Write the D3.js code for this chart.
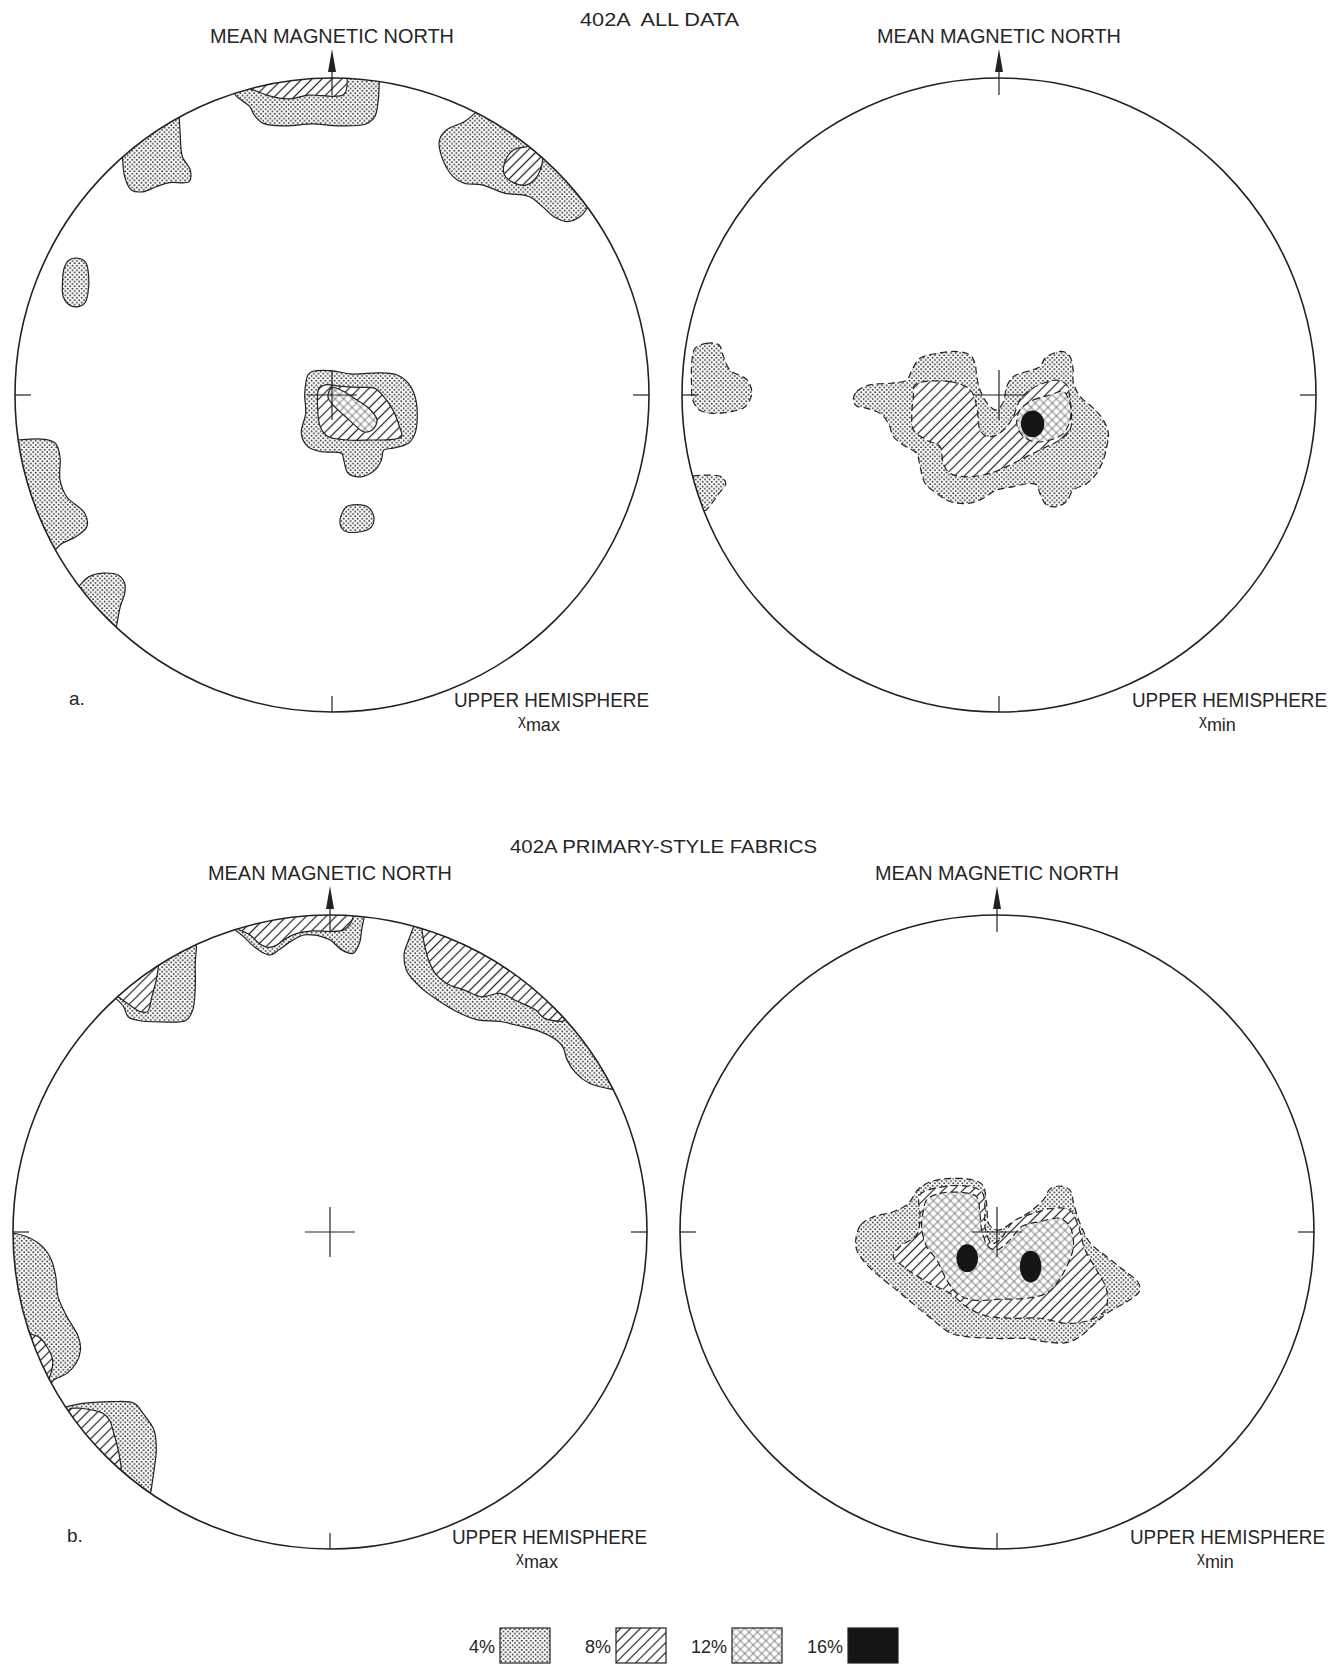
<!DOCTYPE html>
<html>
<head>
<meta charset="utf-8">
<script src="https://cdn.jsdelivr.net/npm/d3@7"></script>
<style>
  body { margin: 0; background: #fff; }
  text { font-family: "Liberation Sans", Arial, sans-serif; fill: #262626; }
</style>
</head>
<body>
<svg id="chart" width="1344" height="1668"></svg>
<script>
// Contours in units of the net radius
// (x to the right, y downwards, centre of the net at 0,0).
// rim: true -> the contour starts and ends on the primitive circle.

// 402A all data, chi max
const allMax4 = [
  {rim: true, pts: [[-0.308,-0.952],[-0.300,-0.941],[-0.259,-0.909],[-0.245,-0.883],[-0.217,-0.857],[-0.146,-0.849],[-0.062,-0.855],[0.023,-0.849],[0.107,-0.855],[0.135,-0.878],[0.146,-0.931],[0.149,-0.988]]},
  {rim: true, pts: [[-0.661,-0.757],[-0.654,-0.689],[-0.633,-0.647],[-0.597,-0.641],[-0.555,-0.657],[-0.513,-0.670],[-0.451,-0.673],[-0.447,-0.710],[-0.472,-0.752],[-0.479,-0.826],[-0.482,-0.876]]},
  {rim: true, pts: [[0.452,-0.890],[0.417,-0.862],[0.361,-0.836],[0.339,-0.804],[0.346,-0.752],[0.382,-0.689],[0.417,-0.668],[0.473,-0.663],[0.544,-0.637],[0.621,-0.626],[0.663,-0.595],[0.699,-0.563],[0.741,-0.547],[0.783,-0.563],[0.805,-0.590]]},
  {rim: false, pts: [[-0.850,-0.360],[-0.845,-0.400],[-0.830,-0.425],[-0.805,-0.432],[-0.778,-0.420],[-0.768,-0.380],[-0.770,-0.320],[-0.780,-0.290],[-0.805,-0.278],[-0.830,-0.285],[-0.848,-0.310]]},
  {rim: false, pts: [[-0.076,-0.063],[-0.062,-0.074],[-0.006,-0.077],[0.065,-0.066],[0.149,-0.070],[0.206,-0.063],[0.241,-0.037],[0.262,0.005],[0.269,0.068],[0.262,0.121],[0.241,0.152],[0.192,0.168],[0.163,0.174],[0.156,0.205],[0.135,0.237],[0.093,0.258],[0.051,0.247],[0.037,0.205],[0.030,0.184],[-0.034,0.179],[-0.076,0.163],[-0.097,0.121],[-0.083,0.058],[-0.086,-0.005]]},
  {rim: false, pts: [[0.044,0.354],[0.079,0.346],[0.114,0.354],[0.132,0.386],[0.124,0.417],[0.079,0.433],[0.037,0.427],[0.025,0.398]]},
  {rim: true, pts: [[-0.992,0.142],[-0.963,0.140],[-0.907,0.140],[-0.872,0.153],[-0.858,0.195],[-0.858,0.268],[-0.837,0.321],[-0.780,0.373],[-0.773,0.415],[-0.808,0.447],[-0.851,0.468],[-0.868,0.484]]},
  {rim: true, pts: [[-0.794,0.599],[-0.766,0.573],[-0.724,0.562],[-0.675,0.568],[-0.654,0.594],[-0.654,0.626],[-0.668,0.668],[-0.679,0.726]]}
];
const allMax8 = [
  {rim: true, pts: [[-0.259,-0.967],[-0.189,-0.941],[-0.132,-0.934],[-0.076,-0.946],[0.037,-0.948],[0.048,-0.997]]},
  {rim: true, pts: [[0.614,-0.783],[0.572,-0.773],[0.544,-0.731],[0.544,-0.694],[0.572,-0.670],[0.611,-0.662],[0.642,-0.683],[0.659,-0.715],[0.665,-0.745]]},
  {rim: false, pts: [[-0.041,-0.021],[-0.020,-0.032],[0.023,-0.028],[0.079,-0.024],[0.135,-0.021],[0.163,0.005],[0.192,0.047],[0.213,0.100],[0.220,0.131],[0.192,0.140],[0.121,0.142],[0.051,0.142],[-0.013,0.131],[-0.037,0.100],[-0.045,0.047]]}
];
const allMax12 = [
  {rim: false, pts: [[0.001,-0.024],[0.037,-0.011],[0.079,0.016],[0.121,0.047],[0.142,0.079],[0.128,0.110],[0.100,0.116],[0.072,0.095],[0.037,0.063],[0.008,0.037],[-0.013,0.005]]}
];
const allMax16 = [];

// 402A all data, chi min
const allMin4 = [
  {rim: false, pts: [[-0.959,-0.147],[-0.924,-0.163],[-0.883,-0.158],[-0.869,-0.121],[-0.849,-0.079],[-0.794,-0.047],[-0.780,-0.005],[-0.801,0.037],[-0.849,0.053],[-0.904,0.058],[-0.945,0.047],[-0.966,0.016],[-0.970,-0.037],[-0.970,-0.089],[-0.966,-0.126]]},
  {rim: true, pts: [[-0.966,0.256],[-0.931,0.253],[-0.876,0.258],[-0.862,0.279],[-0.883,0.310],[-0.906,0.342],[-0.924,0.363]]},
  {rim: false, pts: [[-0.460,0.016],[-0.449,-0.011],[-0.407,-0.032],[-0.344,-0.037],[-0.291,-0.047],[-0.275,-0.079],[-0.249,-0.116],[-0.197,-0.131],[-0.134,-0.137],[-0.091,-0.126],[-0.076,-0.100],[-0.070,-0.058],[-0.060,-0.016],[-0.028,0.037],[-0.007,0.047],[0.014,0.021],[0.024,-0.026],[0.045,-0.058],[0.087,-0.074],[0.129,-0.089],[0.145,-0.116],[0.171,-0.131],[0.203,-0.137],[0.224,-0.121],[0.234,-0.079],[0.234,-0.042],[0.256,0.005],[0.298,0.042],[0.329,0.079],[0.345,0.121],[0.340,0.163],[0.329,0.205],[0.308,0.247],[0.277,0.279],[0.234,0.300],[0.213,0.336],[0.182,0.352],[0.150,0.347],[0.129,0.310],[0.119,0.284],[0.098,0.279],[0.045,0.289],[-0.007,0.300],[-0.060,0.331],[-0.102,0.342],[-0.155,0.336],[-0.197,0.310],[-0.233,0.279],[-0.249,0.226],[-0.260,0.184],[-0.302,0.158],[-0.333,0.131],[-0.349,0.089],[-0.375,0.058],[-0.417,0.042],[-0.449,0.035]]}
];
const allMin8 = [
  {rim: false, pts: [[-0.265,-0.032],[-0.155,-0.042],[-0.091,-0.016],[-0.070,0.037],[-0.060,0.110],[-0.039,0.131],[-0.007,0.126],[0.024,0.100],[0.045,0.068],[0.066,0.016],[0.098,-0.016],[0.140,-0.037],[0.182,-0.047],[0.213,-0.032],[0.224,0.016],[0.229,0.068],[0.224,0.110],[0.192,0.142],[0.150,0.163],[0.108,0.184],[0.066,0.205],[0.024,0.226],[-0.028,0.247],[-0.102,0.258],[-0.155,0.247],[-0.176,0.216],[-0.186,0.163],[-0.228,0.142],[-0.270,0.110],[-0.275,0.058],[-0.270,0.005]]}
];
const allMin12 = [
  {rim: false, pts: [[0.066,0.047],[0.108,0.016],[0.161,0.000],[0.203,-0.011],[0.224,0.026],[0.224,0.079],[0.203,0.121],[0.161,0.142],[0.108,0.147],[0.072,0.126],[0.056,0.089]]}
];
const allMin16 = [[0.106, 0.091, 0.037, 0.042]];   // centre u, v and radii

// 402A primary-style fabrics, chi max
const priMax4 = [
  {rim: true, pts: [[-0.297,-0.951],[-0.273,-0.932],[-0.245,-0.905],[-0.217,-0.884],[-0.189,-0.874],[-0.161,-0.890],[-0.125,-0.916],[-0.083,-0.937],[-0.055,-0.937],[-0.027,-0.932],[0.001,-0.921],[0.037,-0.890],[0.072,-0.879],[0.093,-0.911],[0.100,-0.953],[0.107,-0.990]]},
  {rim: true, pts: [[-0.676,-0.737],[-0.651,-0.711],[-0.637,-0.679],[-0.608,-0.668],[-0.538,-0.663],[-0.454,-0.668],[-0.433,-0.700],[-0.425,-0.774],[-0.425,-0.847],[-0.421,-0.900]]},
  {rim: true, pts: [[0.262,-0.958],[0.248,-0.921],[0.234,-0.879],[0.241,-0.826],[0.283,-0.774],[0.339,-0.732],[0.410,-0.690],[0.466,-0.669],[0.537,-0.664],[0.607,-0.648],[0.663,-0.632],[0.706,-0.611],[0.734,-0.585],[0.748,-0.543],[0.776,-0.501],[0.818,-0.469],[0.889,-0.450]]},
  {rim: true, pts: [[-0.999,0.004],[-0.956,0.015],[-0.907,0.046],[-0.879,0.088],[-0.865,0.141],[-0.858,0.204],[-0.830,0.267],[-0.794,0.330],[-0.787,0.372],[-0.801,0.414],[-0.830,0.446],[-0.872,0.467],[-0.879,0.477]]},
  {rim: true, pts: [[-0.830,0.551],[-0.773,0.540],[-0.689,0.535],[-0.618,0.540],[-0.590,0.572],[-0.555,0.625],[-0.548,0.688],[-0.555,0.751],[-0.565,0.819]]}
];
const priMax8 = [
  {rim: true, pts: [[-0.287,-0.953],[-0.252,-0.937],[-0.224,-0.911],[-0.196,-0.898],[-0.168,-0.905],[-0.139,-0.926],[-0.104,-0.942],[-0.055,-0.950],[0.001,-0.948],[0.044,-0.953],[0.065,-0.974],[0.072,-0.990]]},
  {rim: true, pts: [[-0.668,-0.742],[-0.632,-0.716],[-0.597,-0.695],[-0.576,-0.695],[-0.562,-0.742],[-0.548,-0.795],[-0.541,-0.840]]},
  {rim: true, pts: [[0.290,-0.953],[0.297,-0.911],[0.311,-0.858],[0.332,-0.816],[0.368,-0.784],[0.424,-0.763],[0.480,-0.742],[0.537,-0.753],[0.593,-0.727],[0.649,-0.700],[0.677,-0.674],[0.734,-0.664]]},
  {rim: true, pts: [[-0.945,0.322],[-0.921,0.330],[-0.893,0.362],[-0.875,0.404],[-0.879,0.441],[-0.889,0.467]]},
  {rim: true, pts: [[-0.815,0.556],[-0.787,0.556],[-0.717,0.572],[-0.696,0.593],[-0.682,0.635],[-0.668,0.688],[-0.658,0.746]]}
];
const priMax12 = [];
const priMax16 = [];

// 402A primary-style fabrics, chi min
const priMin4 = [
  {rim: false, pts: [[-0.445,0.020],[-0.430,-0.022],[-0.390,-0.048],[-0.327,-0.064],[-0.280,-0.090],[-0.248,-0.135],[-0.209,-0.159],[-0.148,-0.169],[-0.075,-0.164],[-0.045,-0.148],[-0.033,-0.090],[-0.024,-0.022],[0.004,-0.006],[0.052,-0.033],[0.104,-0.064],[0.146,-0.101],[0.167,-0.135],[0.199,-0.145],[0.230,-0.132],[0.243,-0.085],[0.264,-0.022],[0.295,0.036],[0.346,0.078],[0.399,0.120],[0.446,0.160],[0.449,0.188],[0.414,0.217],[0.346,0.257],[0.304,0.293],[0.262,0.330],[0.220,0.349],[0.157,0.347],[0.094,0.336],[-0.001,0.336],[-0.096,0.330],[-0.148,0.318],[-0.201,0.278],[-0.253,0.236],[-0.317,0.183],[-0.380,0.132],[-0.422,0.090],[-0.443,0.055]]}
];
const priMin8 = [
  {rim: false, pts: [[-0.243,-0.117],[-0.180,-0.141],[-0.096,-0.145],[-0.048,-0.127],[-0.038,-0.080],[-0.038,-0.017],[-0.017,0.036],[0.009,0.025],[0.052,-0.033],[0.115,-0.059],[0.178,-0.075],[0.230,-0.069],[0.257,-0.017],[0.278,0.057],[0.314,0.120],[0.346,0.183],[0.341,0.246],[0.293,0.278],[0.220,0.288],[0.136,0.272],[0.052,0.272],[-0.033,0.265],[-0.096,0.236],[-0.148,0.193],[-0.222,0.157],[-0.295,0.109],[-0.327,0.078],[-0.306,0.046],[-0.253,0.009],[-0.243,-0.048]]}
];
const priMin12 = [
  {rim: false, pts: [[-0.222,-0.101],[-0.180,-0.122],[-0.106,-0.124],[-0.064,-0.111],[-0.054,-0.059],[-0.048,-0.006],[-0.027,0.046],[-0.001,0.057],[0.041,0.025],[0.078,-0.017],[0.136,-0.033],[0.199,-0.043],[0.230,-0.017],[0.241,0.046],[0.220,0.109],[0.188,0.162],[0.157,0.193],[0.094,0.209],[0.009,0.212],[-0.075,0.215],[-0.127,0.193],[-0.159,0.151],[-0.190,0.088],[-0.222,0.046],[-0.238,-0.017],[-0.232,-0.069]]}
];
const priMin16 = [[-0.094, 0.083, 0.034, 0.044], [0.106, 0.109, 0.034, 0.050]];

const levels = ["4%", "8%", "12%", "16%"];
const titles = ["402A  ALL DATA", "402A PRIMARY-STYLE FABRICS"];

// ---------------------------------------------------------------------------

const svg = d3.select("#chart");
const R = 317;

const panels = [
  {cx: 332, cy: 395, dashed: false, sub: "max", letter: "a.", data: [allMax4, allMax8, allMax12], black: allMax16},
  {cx: 999, cy: 395, dashed: true,  sub: "min", letter: null, data: [allMin4, allMin8, allMin12], black: allMin16},
  {cx: 330, cy: 1232, dashed: false, sub: "max", letter: "b.", data: [priMax4, priMax8, priMax12], black: priMax16},
  {cx: 997, cy: 1232, dashed: true,  sub: "min", letter: null, data: [priMin4, priMin8, priMin12], black: priMin16}
];

// fill patterns
const defs = svg.append("defs");

const p4 = defs.append("pattern").attr("id", "p4")
  .attr("width", 4.6).attr("height", 4.6).attr("patternUnits", "userSpaceOnUse");
p4.append("rect").attr("width", 4.6).attr("height", 4.6).attr("fill", "#fff");
p4.append("circle").attr("cx", 1.1).attr("cy", 1.1).attr("r", 0.95).attr("fill", "#2a2a2a");
p4.append("circle").attr("cx", 3.4).attr("cy", 3.4).attr("r", 0.95).attr("fill", "#2a2a2a");

const p8 = defs.append("pattern").attr("id", "p8")
  .attr("width", 7).attr("height", 7).attr("patternUnits", "userSpaceOnUse")
  .attr("patternTransform", "rotate(45)");
p8.append("rect").attr("width", 7).attr("height", 7).attr("fill", "#fff");
p8.append("line").attr("x1", 3.5).attr("y1", 0).attr("x2", 3.5).attr("y2", 7)
  .attr("stroke", "#222").attr("stroke-width", 1.2);

const p12 = defs.append("pattern").attr("id", "p12")
  .attr("width", 6).attr("height", 6).attr("patternUnits", "userSpaceOnUse")
  .attr("patternTransform", "rotate(45)");
p12.append("rect").attr("width", 6).attr("height", 6).attr("fill", "#fff");
p12.append("line").attr("x1", 3).attr("y1", 0).attr("x2", 3).attr("y2", 6)
  .attr("stroke", "#555").attr("stroke-width", 0.7);
p12.append("line").attr("x1", 0).attr("y1", 3).attr("x2", 6).attr("y2", 3)
  .attr("stroke", "#555").attr("stroke-width", 0.7);

const fills = ["url(#p4)", "url(#p8)", "url(#p12)", "#151515"];

function contourPath(c, x, y) {
  const line = d3.line().x(d => x(d[0])).y(d => y(d[1]));
  if (!c.rim) return line.curve(d3.curveCatmullRomClosed.alpha(0.5))(c.pts);

  // open curve, then close it outside the net so the clip trims it to the rim
  const p = line.curve(d3.curveCatmullRom.alpha(0.5))(c.pts);
  const last = c.pts[c.pts.length - 1], first = c.pts[0];
  const a0 = Math.atan2(last[1], last[0]);
  const a1 = Math.atan2(first[1], first[0]);
  let da = a1 - a0;
  while (da > Math.PI) da -= 2 * Math.PI;
  while (da <= -Math.PI) da += 2 * Math.PI;
  const k = 1.25, rp = x(k) - x(0);
  return p +
    `L${x(k * Math.cos(a0))},${y(k * Math.sin(a0))}` +
    `A${rp},${rp} 0 0 ${da > 0 ? 1 : 0} ${x(k * Math.cos(a1))},${y(k * Math.sin(a1))}Z`;
}

panels.forEach((p, i) => {
  const x = d3.scaleLinear().domain([-1, 1]).range([p.cx - R, p.cx + R]);
  const y = d3.scaleLinear().domain([-1, 1]).range([p.cy - R, p.cy + R]);
  const g = svg.append("g");

  defs.append("clipPath").attr("id", "net" + i)
    .append("circle").attr("cx", x(0)).attr("cy", y(0)).attr("r", R);

  const shapes = g.append("g").attr("clip-path", `url(#net${i})`);
  p.data.forEach((level, li) => {
    shapes.selectAll(null)
      .data(level)
      .join("path")
        .attr("d", c => contourPath(c, x, y))
        .attr("fill", fills[li])
        .attr("stroke", "#222")
        .attr("stroke-width", 1.2)
        .attr("stroke-dasharray", p.dashed ? "7,4" : null)
        .attr("stroke-linejoin", "round");
  });
  shapes.selectAll(null)
    .data(p.black)
    .join("ellipse")
      .attr("cx", d => x(d[0]))
      .attr("cy", d => y(d[1]))
      .attr("rx", d => x(d[2]) - x(0))
      .attr("ry", d => y(d[3]) - y(0))
      .attr("fill", fills[3]);

  // primitive circle, ticks, centre cross
  g.append("circle")
    .attr("cx", x(0)).attr("cy", y(0)).attr("r", R)
    .attr("fill", "none").attr("stroke", "#222").attr("stroke-width", 1.6);

  const ticks = [
    [x(-1), y(0), x(-1) + 16, y(0)],
    [x(1) - 16, y(0), x(1), y(0)],
    [x(0), y(1) - 16, x(0), y(1)],
    [x(0) - 25, y(0), x(0) + 25, y(0)],
    [x(0), y(0) - 25, x(0), y(0) + 25],
    [x(0), y(-1) + 17, x(0), y(-1) - 10]
  ];
  g.selectAll(null)
    .data(ticks)
    .join("line")
      .attr("x1", d => d[0]).attr("y1", d => d[1])
      .attr("x2", d => d[2]).attr("y2", d => d[3])
      .attr("stroke", "#222").attr("stroke-width", 1.2);

  // north arrow
  const top = y(-1);
  g.append("path")
    .attr("d", `M${x(0)},${top - 29}L${x(0) - 4},${top - 6}L${x(0) + 4},${top - 6}Z`)
    .attr("fill", "#222");

  g.append("text")
    .attr("x", x(0) - 122).attr("y", top - 35)
    .attr("textLength", 244).attr("lengthAdjust", "spacingAndGlyphs")
    .attr("font-size", 20)
    .text("MEAN MAGNETIC NORTH");

  g.append("text")
    .attr("x", x(0) + 122 + (p.dashed ? 11 : 0)).attr("y", y(1) - 5)
    .attr("textLength", 195).attr("lengthAdjust", "spacingAndGlyphs")
    .attr("font-size", 20)
    .text("UPPER HEMISPHERE");

  const lab = g.append("text")
    .attr("x", x(0) + (p.dashed ? 200 : 186)).attr("y", y(1) + 19);
  lab.append("tspan").attr("font-size", 15).attr("dy", -6).text("χ");
  lab.append("tspan").attr("font-size", 18).attr("dy", 6).text(p.sub);

  if (p.letter) {
    g.append("text")
      .attr("x", x(-1) + 54).attr("y", y(1) - 7)
      .attr("font-size", 19)
      .text(p.letter);
  }
});

// figure titles
svg.append("text")
  .attr("x", 580).attr("y", 26)
  .attr("textLength", 159).attr("lengthAdjust", "spacingAndGlyphs")
  .attr("font-size", 18).style("white-space", "pre")
  .text(titles[0]);
svg.append("text")
  .attr("x", 510).attr("y", 853)
  .attr("textLength", 307).attr("lengthAdjust", "spacingAndGlyphs")
  .attr("font-size", 18)
  .text(titles[1]);

// legend
const lx = d3.scaleLinear().domain([0, 3]).range([500, 848]);
const legend = svg.append("g").attr("transform", "translate(0,1628)");
const item = legend.selectAll("g")
  .data(levels)
  .join("g")
    .attr("transform", (d, i) => `translate(${lx(i)},0)`);
item.append("rect")
  .attr("width", 50).attr("height", 35)
  .attr("fill", (d, i) => fills[i])
  .attr("stroke", "#222").attr("stroke-width", 1.2);
item.append("text")
  .attr("x", -5).attr("y", 25)
  .attr("text-anchor", "end")
  .attr("font-size", 18)
  .text(d => d);
</script>
</body>
</html>
